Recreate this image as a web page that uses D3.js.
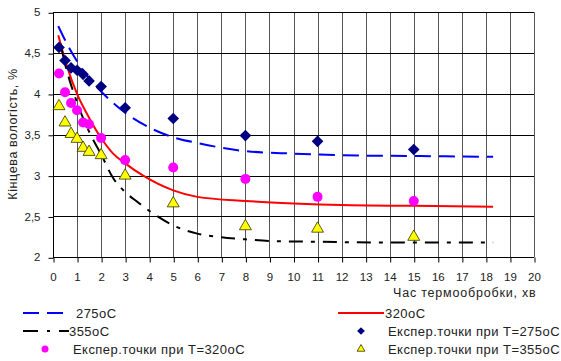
<!DOCTYPE html>
<html>
<head>
<meta charset="utf-8">
<script src="https://cdn.jsdelivr.net/npm/d3@7"></script>
<style>
  html, body { margin: 0; padding: 0; background: #fff; }
  svg { display: block; font-family: "Liberation Sans", Arial, sans-serif; }
</style>
</head>
<body>
<svg id="chart" width="561" height="361"></svg>
<script>
// Model curves (final moisture vs. heat-treatment time)
const curve275X = [0.22, 0.5, 1, 1.5, 2, 3, 4, 5, 6, 8, 10, 12, 15, 18.3];
const curve275Y = [4.83, 4.66, 4.40, 4.19, 4.03, 3.77, 3.59, 3.47, 3.40, 3.30, 3.27, 3.25, 3.24, 3.23];

const curve320X = [0.22, 0.57, 1, 1.5, 2, 2.5, 3, 3.75, 5, 6, 8, 10, 12, 15, 18.3];
const curve320Y = [4.72, 4.35, 4.0, 3.71, 3.46, 3.27, 3.15, 3.0, 2.82, 2.74, 2.69, 2.66, 2.64, 2.63, 2.62];

const curve355X = [0.3, 0.57, 0.91, 1.2, 1.6, 2, 2.5, 3, 3.5, 4.2, 5, 6, 7, 8, 9, 11, 15, 18.3];
const curve355Y = [4.62, 4.29, 3.97, 3.74, 3.48, 3.26, 2.97, 2.80, 2.68, 2.53, 2.39, 2.29, 2.245, 2.22, 2.20, 2.19, 2.18, 2.18];

// Experimental points
const expTime = [0.25, 0.5, 0.75, 1, 1.25, 1.5, 2, 3, 5, 8, 11, 15];
const exp275 = [4.57, 4.41, 4.32, 4.29, 4.24, 4.16, 4.09, 3.83, 3.70, 3.49, 3.42, 3.32];
const exp320 = [4.25, 4.02, 3.89, 3.80, 3.65, 3.63, 3.46, 3.19, 3.10, 2.96, 2.74, 2.69];
const exp355 = [3.85, 3.65, 3.51, 3.45, 3.34, 3.29, 3.25, 3.00, 2.66, 2.38, 2.35, 2.25];

// Axis ticks
const xTicks = d3.range(0, 21);
const yTicks = [2, 2.5, 3, 3.5, 4, 4.5, 5];
const yTickLabels = ["2", "2,5", "3", "3,5", "4", "4,5", "5"];

const svg = d3.select("#chart");
const plotLeft = 53, plotRight = 534, plotTop = 12.3, plotBottom = 257.3;

const x = d3.scaleLinear().domain([0, 20]).range([plotLeft, plotRight]);
const y = d3.scaleLinear().domain([2, 5]).range([plotBottom, plotTop]);

// Grid
const grid = svg.append("g");
grid.selectAll("line.v").data(xTicks).join("line")
  .attr("x1", d => Math.round(x(d)) + 0.5).attr("x2", d => Math.round(x(d)) + 0.5)
  .attr("y1", y(5)).attr("y2", y(2))
  .attr("stroke", d => d === 0 ? "#000" : "#555").attr("stroke-width", 1);
grid.selectAll("line.h").data(yTicks).join("line")
  .attr("x1", x(0)).attr("x2", x(20))
  .attr("y1", d => Math.round(y(d)) + 0.5).attr("y2", d => Math.round(y(d)) + 0.5)
  .attr("stroke", "#000").attr("stroke-width", 1);

// Axes
const xAxis = d3.axisBottom(x).tickValues(xTicks).tickSize(5).tickPadding(10).tickFormat(d3.format("d"));
const gx = svg.append("g").attr("transform", `translate(0,${Math.round(plotBottom) + 0.5})`).call(xAxis);
gx.select(".domain").remove();
gx.selectAll(".tick line").attr("stroke", "#000").attr("transform", "translate(0.5,0)");
gx.selectAll("text").attr("font-size", 11.5).attr("fill", "#222").attr("font-family", "Liberation Sans, Arial, sans-serif");

const yAxis = d3.axisLeft(y).tickValues(yTicks).tickSize(5).tickPadding(8)
  .tickFormat((d, i) => yTickLabels[i]);
const gy = svg.append("g").attr("transform", `translate(${Math.round(plotLeft) + 0.5},0)`).call(yAxis);
gy.select(".domain").remove();
gy.selectAll(".tick line").attr("stroke", "#000").attr("transform", "translate(0,0.5)");
gy.selectAll("text").attr("font-size", 11.5).attr("fill", "#222").attr("font-family", "Liberation Sans, Arial, sans-serif");

// Axis titles
svg.append("text").attr("x", 393).attr("y", 297)
  .attr("font-size", 12.5).attr("fill", "#222").attr("letter-spacing", 0.8)
  .text("Час термообробки, хв");
svg.append("text").attr("transform", "translate(17,134) rotate(-90)")
  .attr("text-anchor", "middle").attr("font-size", 12.5).attr("fill", "#222").attr("letter-spacing", 0.6)
  .text("Кінцева вологість, %");

// Curves
const lineGen = d3.line().x(d => x(d[0])).y(d => y(d[1])).curve(d3.curveMonotoneX);
const plot = svg.append("g");
plot.append("path").datum(d3.zip(curve275X, curve275Y)).attr("d", lineGen)
  .attr("fill", "none").attr("stroke", "#0000ff").attr("stroke-width", 2).attr("stroke-dasharray", "16,8");
plot.append("path").datum(d3.zip(curve320X, curve320Y)).attr("d", lineGen)
  .attr("fill", "none").attr("stroke", "#ff0000").attr("stroke-width", 2);
plot.append("path").datum(d3.zip(curve355X, curve355Y)).attr("d", lineGen)
  .attr("fill", "none").attr("stroke", "#000").attr("stroke-width", 2).attr("stroke-dasharray", "14,8,4,8");

// Markers
plot.selectAll("path.d275").data(d3.zip(expTime, exp275)).join("path")
  .attr("d", d3.symbol().type(d3.symbolSquare).size(68))
  .attr("transform", d => `translate(${x(d[0])},${y(d[1])}) rotate(45)`)
  .attr("fill", "#000080");
plot.selectAll("circle.c320").data(d3.zip(expTime, exp320)).join("circle")
  .attr("cx", d => x(d[0])).attr("cy", d => y(d[1])).attr("r", 5)
  .attr("fill", "#ff00ff");
plot.selectAll("path.t355").data(d3.zip(expTime, exp355)).join("path")
  .attr("d", d3.symbol().type(d3.symbolTriangle).size(62))
  .attr("transform", d => `translate(${x(d[0])},${y(d[1])})`)
  .attr("fill", "#ffff00").attr("stroke", "#333300").attr("stroke-width", 0.8);

// Legend
const legend = svg.append("g").attr("font-size", 13).attr("fill", "#222").attr("letter-spacing", 0.45);
const row = [313, 331, 349];

legend.append("line").attr("x1", 23).attr("x2", 63).attr("y1", row[0]).attr("y2", row[0])
  .attr("stroke", "#0000ff").attr("stroke-width", 2).attr("stroke-dasharray", "16,8");
legend.append("text").attr("x", 76).attr("y", row[0] + 5).text("275oC");

legend.append("line").attr("x1", 338).attr("x2", 384).attr("y1", row[0]).attr("y2", row[0])
  .attr("stroke", "#ff0000").attr("stroke-width", 2);
legend.append("text").attr("x", 385).attr("y", row[0] + 5).text("320oC");

legend.append("line").attr("x1", 23).attr("x2", 69).attr("y1", row[1]).attr("y2", row[1])
  .attr("stroke", "#000").attr("stroke-width", 2).attr("stroke-dasharray", "15,9,3,9,10");
legend.append("text").attr("x", 69).attr("y", row[1] + 5).text("355oC");

legend.append("path").attr("d", d3.symbol().type(d3.symbolSquare).size(30))
  .attr("transform", `translate(361,${row[1]}) rotate(45)`).attr("fill", "#000080");
legend.append("text").attr("x", 388).attr("y", row[1] + 5).text("Експер.точки при T=275oC");

legend.append("circle").attr("cx", 45).attr("cy", row[2]).attr("r", 3.5).attr("fill", "#ff00ff");
legend.append("text").attr("x", 73).attr("y", row[2] + 5).text("Експер.точки при T=320oC");

legend.append("path").attr("d", d3.symbol().type(d3.symbolTriangle).size(26))
  .attr("transform", `translate(361,${row[2]})`)
  .attr("fill", "#ffff00").attr("stroke", "#333300").attr("stroke-width", 0.8);
legend.append("text").attr("x", 388).attr("y", row[2] + 5).text("Експер.точки при T=355oC");
</script>
</body>
</html>
